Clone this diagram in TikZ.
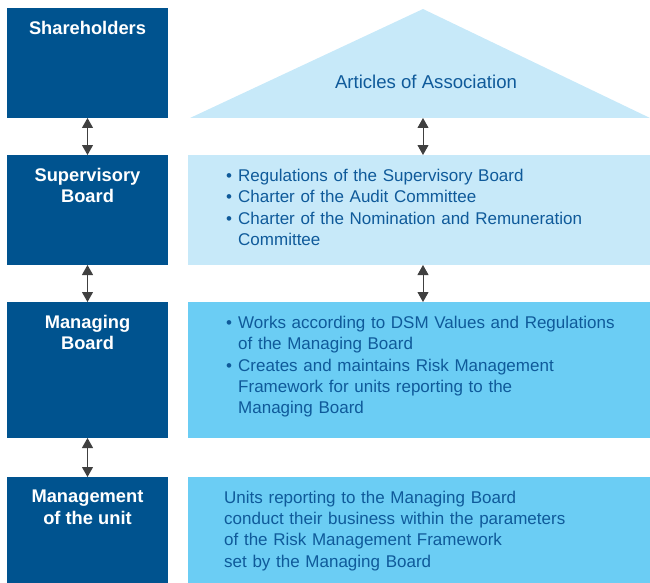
\documentclass[tikz,border=0pt]{standalone}
\usepackage{fontspec}
\setmainfont{Liberation Sans}
\usetikzlibrary{positioning,arrows.meta}
\definecolor{dsmdark}{HTML}{00538F}
\definecolor{dsmpale}{HTML}{C7E9F9}
\definecolor{dsmmid}{HTML}{6BCDF4}
\definecolor{dsmtext}{HTML}{0F5A9A}
\newcommand{\itm}[1]{\par\noindent\hangindent=12pt\hangafter=1\strut\makebox[12pt][l]{\textbullet}#1}
\tikzset{
  board/.style = {fill=dsmdark, minimum width=161pt, minimum height=110pt,
                  inner sep=0pt, outer sep=0pt, anchor=north west},
  boardlbl/.style = {text=white, font=\bfseries\fontsize{18.3}{21.5}\selectfont,
                     align=center, inner sep=0pt, anchor=north},
  doc/.style = {fill=#1, minimum width=462pt, minimum height=110pt,
                inner sep=0pt, outer sep=0pt},
  doclbl/.style = {text=dsmtext, font=\fontsize{17}{21.3}\selectfont,
                   text width=420pt, inner sep=0pt, anchor=north west},
  link/.style = {{Triangle[width=11pt,length=10pt]}-{Triangle[width=11pt,length=10pt]},
                 draw=black!75, fill=black, line width=1pt}
}
\begin{document}
\begin{tikzpicture}[x=1pt, y=-1pt]
    \useasboundingbox (0,0) rectangle (650,583);
    % left column
    \node[board] (sh) at (7,8) {};
    \node[board, below=37pt of sh] (sb) {};
    \node[board, below=37pt of sb, minimum height=136pt] (mb) {};
    \node[board, below=39pt of mb, minimum height=106pt] (mu) {};
    \node[boardlbl] (shT) at ([yshift=-13pt]sh.north) {Shareholders};
    \node[boardlbl] (sbT) at ([yshift=-13pt]sb.north) {Supervisory\\Board};
    \node[boardlbl] (mbT) at ([yshift=-13pt]mb.north) {Managing\\Board};
    \node[boardlbl] (muT) at ([yshift=-13pt]mu.north) {Management\\of the unit};
    % right column
    \coordinate (tl) at (190,118);
    \coordinate (tr) at (650,118);
    \coordinate (apex) at (423,9);
    \fill[dsmpale] (tl) -- (apex) -- (tr) -- cycle;
    \node[text=dsmtext, font=\fontsize{18.6}{21.5}\selectfont] (aoa) at (426,82) {Articles of Association};
    \node[doc=dsmpale, right=20pt of sb] (sbr) {};
    \node[doc=dsmmid, right=20pt of mb, minimum height=136pt] (mbr) {};
    \node[doc=dsmmid, right=20pt of mu, minimum height=106pt] (mur) {};
    \node[doclbl] (sbrT) at ([xshift=38pt, yshift=-5pt]sbr.north west) {\raggedright
        \itm{Regulations of the Supervisory Board}
        \itm{Charter of the Audit Committee}
        \itm{Charter of the Nomination and Remuneration\newline Committee}\par};
    \node[doclbl] (mbrT) at ([xshift=38pt, yshift=-5pt]mbr.north west) {\raggedright
        \itm{Works according to DSM Values and Regulations\newline of the Managing Board}
        \itm{Creates and maintains Risk Management\newline Framework for units reporting to the\newline Managing Board}\par};
    \node[doclbl] (murT) at ([xshift=36pt, yshift=-11pt]mur.north west) {\raggedright\strut
        Units reporting to the Managing Board\\
        conduct their business within the parameters\\
        of the Risk Management Framework\\
        set by the Managing Board\par};
    % connectors
    \draw[link] (sh) -- (sb);
    \draw[link] (sb) -- (mb);
    \draw[link] (mb) -- (mu);
    \draw[link] (apex |- tl) -- (apex |- sbr.north);
    \draw[link] (sbr.south -| apex) -- (mbr.north -| apex);
\end{tikzpicture}
\end{document}
